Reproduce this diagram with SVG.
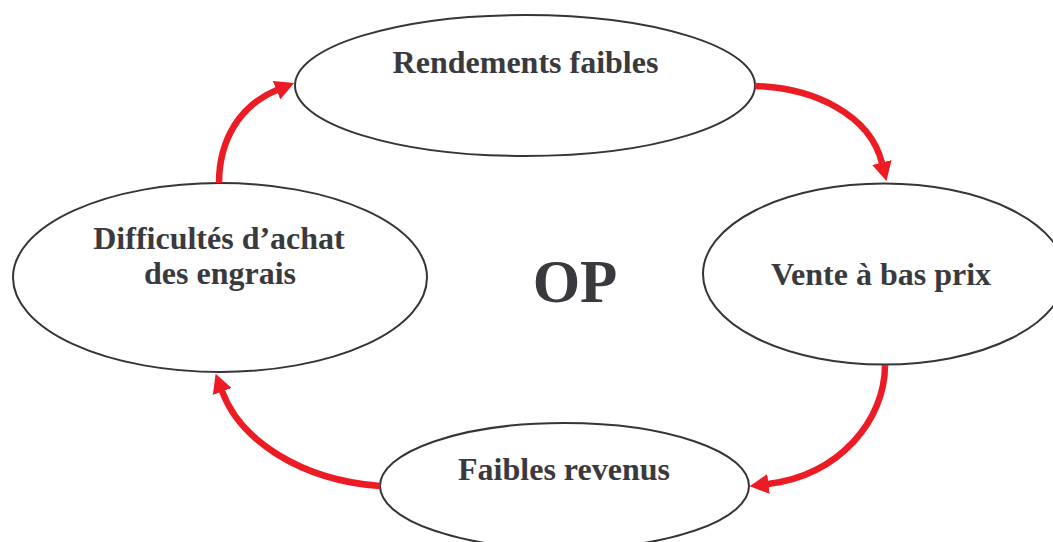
<svg xmlns="http://www.w3.org/2000/svg" width="1053" height="542" viewBox="0 0 1053 542">
  <style>
    .node { fill: #ffffff; stroke: #353538; stroke-width: 2; }
    .label { font-family: "Liberation Serif", "Times New Roman", serif; font-weight: bold; font-size: 32px; fill: #3a3a3e; text-anchor: middle; }
    .title { font-family: "Liberation Serif", "Times New Roman", serif; font-weight: bold; font-size: 61px; fill: #3a3a3e; text-anchor: middle; }
    .link { fill: none; stroke: #ed1c24; stroke-width: 6.5; marker-end: url(#head); }
  </style>
  <defs>
    <marker id="head" markerUnits="userSpaceOnUse" viewBox="0 0 20 20" markerWidth="20" markerHeight="20" refX="0.5" refY="10" orient="auto">
      <path d="M0,0 L19,10 L0,20 Z" fill="#ed1c24"/>
    </marker>
  </defs>
  <rect width="1053" height="542" fill="#ffffff"/>

  <g id="node-rendements">
    <ellipse class="node" cx="525" cy="85.5" rx="230" ry="70.5"/>
    <text class="label" x="525.5" y="73">Rendements faibles</text>
  </g>

  <g id="node-vente">
    <ellipse class="node" cx="884" cy="274" rx="181" ry="90.5"/>
    <text class="label" x="881" y="285">Vente à bas prix</text>
  </g>

  <g id="node-revenus">
    <ellipse class="node" cx="564.5" cy="486" rx="184.5" ry="63"/>
    <text class="label" x="564" y="480">Faibles revenus</text>
  </g>

  <g id="node-difficultes">
    <ellipse class="node" cx="220" cy="277.5" rx="207" ry="94.5"/>
    <text class="label" x="219" y="249">Difficultés d’achat</text>
    <text class="label" x="220" y="284">des engrais</text>
  </g>

  <g id="center-label">
    <text class="title" x="575" y="302">OP</text>
  </g>

  <g id="connectors">
    <path class="link" d="M219,183 C219,140 240,105 277,90"/>
    <path class="link" d="M755,86 C815,88 870,115 882,163"/>
    <path class="link" d="M885,365 C885,420 840,475 768,484"/>
    <path class="link" d="M380,486 C300,480 240,440 222,391"/>
  </g>
</svg>
